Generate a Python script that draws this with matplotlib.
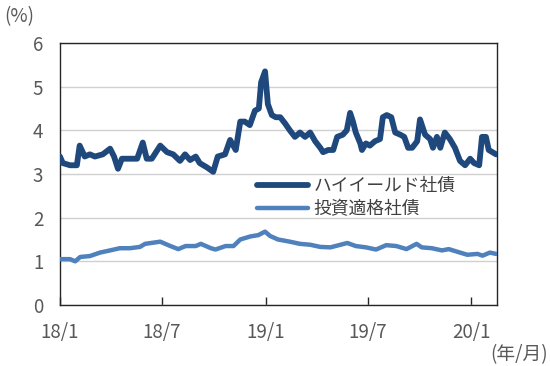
import matplotlib
matplotlib.use("Agg")
import matplotlib.pyplot as plt
import pandas as pd

plt.rcParams['font.family'] = ['Noto Sans CJK JP', 'DejaVu Sans']

# ハイイールド社債 利回り (%)
hy_dates = ['2018-01-01', '2018-01-06', '2018-01-19', '2018-01-31', '2018-02-05', '2018-02-14',
            '2018-02-23', '2018-03-04', '2018-03-18', '2018-03-31', '2018-04-07', '2018-04-14',
            '2018-04-21', '2018-05-05', '2018-05-18', '2018-05-28', '2018-06-04', '2018-06-13',
            '2018-06-28', '2018-07-10', '2018-07-21', '2018-08-02', '2018-08-11', '2018-08-20',
            '2018-08-30', '2018-09-06', '2018-09-19', '2018-09-30', '2018-10-08', '2018-10-21',
            '2018-10-30', '2018-11-09', '2018-11-17', '2018-11-25', '2018-12-04', '2018-12-13',
            '2018-12-20', '2018-12-24', '2018-12-31', '2019-01-05', '2019-01-12', '2019-01-19',
            '2019-01-27', '2019-02-05', '2019-02-13', '2019-02-22', '2019-03-03', '2019-03-12',
            '2019-03-21', '2019-03-30', '2019-04-08', '2019-04-13', '2019-04-22', '2019-05-01',
            '2019-05-08', '2019-05-18', '2019-05-25', '2019-05-31', '2019-06-05', '2019-06-10',
            '2019-06-18', '2019-06-21', '2019-06-28', '2019-07-05', '2019-07-14', '2019-07-23',
            '2019-07-28', '2019-08-04', '2019-08-12', '2019-08-19', '2019-08-28', '2019-09-04',
            '2019-09-11', '2019-09-18', '2019-09-27', '2019-10-02', '2019-10-11', '2019-10-20',
            '2019-10-25', '2019-11-01', '2019-11-07', '2019-11-15', '2019-11-24', '2019-12-03',
            '2019-12-12', '2019-12-21', '2019-12-30', '2020-01-06', '2020-01-15', '2020-01-20',
            '2020-01-27', '2020-02-01', '2020-02-14']
hy_values = [3.40, 3.25, 3.20, 3.20, 3.65, 3.40,
             3.45, 3.40, 3.45, 3.58, 3.40, 3.12,
             3.35, 3.35, 3.35, 3.72, 3.35, 3.35,
             3.65, 3.50, 3.45, 3.30, 3.45, 3.32,
             3.40, 3.25, 3.15, 3.05, 3.40, 3.45,
             3.78, 3.55, 4.20, 4.20, 4.12, 4.45,
             4.50, 5.10, 5.35, 4.60, 4.35, 4.30,
             4.30, 4.15, 4.00, 3.85, 3.95, 3.85,
             3.95, 3.75, 3.60, 3.50, 3.55, 3.55,
             3.85, 3.90, 4.00, 4.40, 4.20, 3.95,
             3.70, 3.55, 3.70, 3.65, 3.75, 3.80,
             4.30, 4.35, 4.30, 3.95, 3.90, 3.85,
             3.60, 3.60, 3.75, 4.25, 3.90, 3.80,
             3.60, 3.85, 3.60, 3.95, 3.80, 3.60,
             3.30, 3.20, 3.35, 3.25, 3.20, 3.85,
             3.85, 3.55, 3.45]

# 投資適格社債 利回り (%)
ig_dates = ['2018-01-01', '2018-01-19', '2018-01-28', '2018-02-06', '2018-02-23', '2018-03-13',
            '2018-03-31', '2018-04-17', '2018-05-05', '2018-05-23', '2018-06-01', '2018-06-28',
            '2018-07-16', '2018-07-30', '2018-08-12', '2018-08-30', '2018-09-08', '2018-09-26',
            '2018-10-04', '2018-10-22', '2018-11-05', '2018-11-17', '2018-12-05', '2018-12-19',
            '2018-12-31', '2019-01-09', '2019-01-23', '2019-02-13', '2019-03-03', '2019-03-21',
            '2019-04-08', '2019-04-26', '2019-05-14', '2019-05-26', '2019-06-10', '2019-06-28',
            '2019-07-16', '2019-08-03', '2019-08-21', '2019-09-08', '2019-09-26', '2019-10-05',
            '2019-10-23', '2019-11-10', '2019-11-22', '2019-12-07', '2019-12-25', '2020-01-12',
            '2020-01-21', '2020-02-03', '2020-02-14']
ig_values = [1.05, 1.05, 1.00, 1.10, 1.12, 1.20,
             1.25, 1.30, 1.30, 1.33, 1.40, 1.45,
             1.35, 1.28, 1.35, 1.35, 1.40, 1.30,
             1.27, 1.35, 1.35, 1.50, 1.57, 1.60,
             1.68, 1.58, 1.50, 1.45, 1.40, 1.38,
             1.33, 1.32, 1.38, 1.42, 1.35, 1.32,
             1.27, 1.37, 1.35, 1.28, 1.40, 1.32,
             1.30, 1.25, 1.28, 1.22, 1.15, 1.17,
             1.13, 1.20, 1.17]

xtick_dates = ['2018-01-01', '2018-07-01', '2019-01-01', '2019-07-01', '2020-01-01']
xtick_labels = ['18/1', '18/7', '19/1', '19/7', '20/1']

hy = pd.Series(hy_values, index=pd.to_datetime(hy_dates))
ig = pd.Series(ig_values, index=pd.to_datetime(ig_dates))

fig = plt.figure(figsize=(5.5, 3.66), dpi=100)
ax = fig.add_axes([0.109, 0.1667, 0.795, 0.7158])

ax.plot(hy.index, hy.values, color='#1F497D', lw=4.2, solid_capstyle='round',
        solid_joinstyle='round', label='ハイイールド社債', zorder=3)
ax.plot(ig.index, ig.values, color='#4F81BD', lw=3.2, solid_capstyle='round',
        solid_joinstyle='round', label='投資適格社債', zorder=3)

ax.set_ylim(0, 6)
ax.set_yticks(range(0, 7))
ax.set_xlim(pd.Timestamp('2018-01-01'), pd.Timestamp('2020-02-16'))
ax.set_xticks(pd.to_datetime(xtick_dates))
ax.set_xticklabels(xtick_labels)

ax.grid(axis='y', color='#D0D0D0', lw=1.0, zorder=0)
for s in ax.spines.values():
    s.set_color('#262626')
    s.set_linewidth(1.0)

ax.tick_params(axis='x', direction='in', length=6, width=1.0, color='#262626',
               labelsize=13.5, labelcolor='#595959', pad=12)
ax.tick_params(axis='y', length=0, labelsize=13.5, labelcolor='#595959', pad=12)

leg = ax.legend(loc='center left', bbox_to_anchor=(0.43, 0.41), frameon=False,
                fontsize=12.8, handlelength=2.9, handletextpad=0.3, borderpad=0,
                labelspacing=0.3)
for t in leg.get_texts():
    t.set_color('#404040')

fig.text(0.008, 0.955, '(%)', fontsize=13.5, color='#595959', va='center', ha='left')
fig.text(0.997, 0.032, '(年/月)', fontsize=13.5, color='#595959', va='center', ha='right')

fig.savefig('out.png', dpi=100)
